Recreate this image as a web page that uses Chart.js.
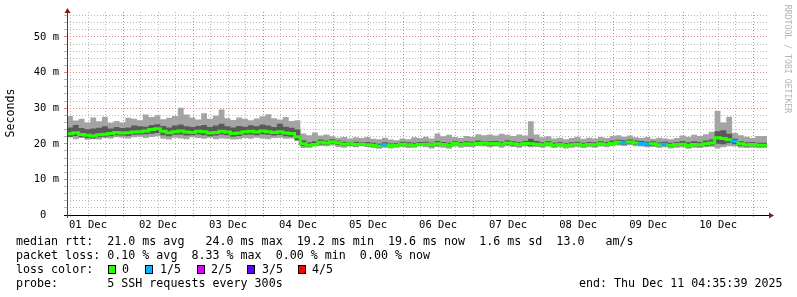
<!DOCTYPE html>
<html>
<head>
<meta charset="utf-8">
<script src="https://cdn.jsdelivr.net/npm/chart.js@4.4.1/dist/chart.umd.min.js"></script>
<style>
  html, body { margin: 0; padding: 0; background: #fff; }
  #wrap { position: relative; width: 797px; height: 297px; overflow: hidden; }
  #chart { position: absolute; left: 0; top: 0; }
  .lg { position: absolute; font-family: 'DejaVu Sans Mono', monospace; font-size: 11.66px; line-height: 14px; color: #000; white-space: pre; }
  .box { position: absolute; top: 265px; width: 6px; height: 7px; border: 1px solid #000; }
</style>
</head>
<body>
<div id="wrap">
  <canvas id="chart" width="797" height="297"></canvas>

  <div class="lg" style="left:16px;top:234px">median rtt:  21.0 ms avg   24.0 ms max  19.2 ms min  19.6 ms now  1.6 ms sd  13.0   am/s</div>
  <div class="lg" style="left:16px;top:248px">packet loss: 0.10 % avg  8.33 % max  0.00 % min  0.00 % now</div>

  <div class="lg" style="left:16px;top:262px">loss color:</div>
  <div class="box" style="left:108px;background:#26ff00"></div>
  <div class="lg" style="left:122px;top:262px">0</div>
  <div class="box" style="left:145px;background:#00b8ff"></div>
  <div class="lg" style="left:160px;top:262px">1/5</div>
  <div class="box" style="left:197px;background:#dd00ff"></div>
  <div class="lg" style="left:211px;top:262px">2/5</div>
  <div class="box" style="left:247px;background:#5a00ff"></div>
  <div class="lg" style="left:262px;top:262px">3/5</div>
  <div class="box" style="left:298px;background:#ff0000"></div>
  <div class="lg" style="left:312px;top:262px">4/5</div>

  <div class="lg" style="left:16px;top:276px">probe:       5 SSH requests every 300s</div>
  <div class="lg" style="left:579px;top:276px">end: Thu Dec 11 04:35:39 2025</div>
</div>

<script>
// Smokeping RTT, 01 Dec 04:48 -> 11 Dec 04:48, one value per 2 hour step
const startHour = 4.8;   // hours after 01 Dec 00:00
const stepHours = 2;
const endHour = 245.1;

const dayLabels = ['01 Dec', '02 Dec', '03 Dec', '04 Dec', '05 Dec',
                   '06 Dec', '07 Dec', '08 Dec', '09 Dec', '10 Dec'];

// median rtt (ms)
const medianRtt = [
  23.0, 22.8, 23.1, 22.6, 22.4, 22.2, 22.5, 22.7, 22.9, 23.2,
  23.0, 23.1, 23.3, 23.4, 23.6, 24.0, 24.2, 23.5, 23.1, 23.4,
  23.6, 23.3, 23.2, 23.5, 23.4, 23.0, 23.2, 23.5, 23.3, 22.9,
  23.0, 23.4, 23.5, 23.3, 23.6, 23.4, 23.2, 23.4, 23.0, 22.9,
  22.0, 20.0, 19.6, 19.8, 20.4, 20.2, 20.6, 20.3, 19.9, 20.0,
  19.8, 19.9, 19.7, 19.6, 19.3, 19.7, 19.5, 19.6, 19.9, 19.7,
  19.6, 19.8, 19.9, 19.7, 20.0, 19.8, 19.6, 20.1, 19.8, 20.0,
  19.9, 20.1, 20.2, 20.0, 20.1, 19.9, 20.2, 20.0, 19.8, 20.1,
  20.0, 19.9, 19.7, 20.0, 19.6, 19.8, 19.5, 19.7, 19.9, 19.6,
  19.8, 19.7, 20.0, 19.8, 20.1, 20.4, 20.3, 20.5, 20.2, 20.1,
  19.9, 20.0, 19.7, 19.9, 19.6, 19.8, 19.9, 19.5, 19.8, 19.7,
  20.0, 20.2, 21.7, 21.5, 21.1, 20.7, 20.0, 19.7, 19.8, 19.6
];

// slowest ping of each step (ms)
const maxRtt = [
  26.2, 27.8, 26.5, 27.0, 26.0, 27.4, 26.3, 27.6, 25.9, 26.4,
  26.0, 27.3, 27.0, 26.6, 28.2, 27.5, 28.0, 26.9, 27.3, 27.8,
  30.1, 28.2, 27.4, 26.8, 28.6, 27.0, 27.9, 29.6, 27.2, 26.7,
  27.4, 27.0, 26.6, 27.1, 27.7, 28.3, 27.2, 26.8, 27.5, 26.4,
  26.6, 22.9, 22.4, 23.2, 22.3, 22.6, 22.1, 21.7, 21.9, 21.5,
  21.8, 21.6, 21.9, 21.4, 21.3, 21.7, 21.2, 21.0, 21.5, 21.3,
  21.8, 21.6, 22.0, 21.5, 22.9, 22.1, 22.5, 21.9, 21.6, 22.2,
  22.0, 22.7, 22.4, 22.6, 22.3, 22.8, 22.5, 22.2, 22.6, 22.3,
  26.3, 22.6, 21.8, 22.1, 21.5, 21.7, 21.3, 21.6, 22.0, 21.4,
  21.7, 21.5, 21.9, 21.6, 22.2, 22.4, 22.0, 22.3, 21.8, 21.6,
  21.9, 21.4, 21.7, 21.5, 21.3, 21.6, 22.3, 22.0, 22.5, 22.2,
  22.7, 23.4, 29.3, 26.0, 27.6, 23.0, 22.4, 22.0, 21.6, 22.2
];

// fastest ping of each step (ms)
const minRtt = [
  21.6, 21.8, 21.3, 21.7, 21.1, 21.3, 21.2, 21.6, 21.5, 21.8,
  21.7, 21.5, 21.8, 22.0, 21.6, 21.9, 22.1, 21.4, 21.2, 21.7,
  21.5, 21.3, 21.8, 21.6, 21.4, 21.7, 21.3, 21.5, 21.4, 21.2,
  21.3, 21.6, 21.4, 21.7, 21.5, 21.3, 21.6, 21.7, 21.4, 21.5,
  20.8, 18.8, 18.9, 19.2, 19.4, 19.3, 19.5, 19.1, 18.9, 19.2,
  19.0, 19.3, 19.1, 18.8, 18.6, 18.9, 18.7, 18.9, 19.1, 18.8,
  18.9, 19.2, 19.0, 18.7, 19.1, 18.9, 18.6, 19.2, 18.9, 19.1,
  19.0, 19.3, 19.2, 19.0, 19.2, 18.9, 19.3, 19.1, 18.9, 19.2,
  19.0, 19.1, 18.9, 19.2, 18.8, 19.0, 18.7, 18.9, 19.1, 18.8,
  19.0, 18.9, 19.2, 19.0, 19.3, 19.5, 19.4, 19.6, 19.3, 19.2,
  19.0, 19.1, 18.9, 19.0, 18.7, 18.9, 19.0, 18.6, 18.9, 18.8,
  19.0, 19.1, 18.7, 19.0, 19.3, 19.2, 18.9, 18.8, 18.9, 18.8
];

// dense part of the smoke, upper edge (ms)
const coreHigh = [
  24.3, 24.6, 25.3, 24.4, 24.1, 24.3, 24.5, 24.9, 24.3, 24.7,
  24.4, 24.6, 25.1, 24.9, 24.8, 25.3, 25.5, 25.0, 24.6, 25.1,
  25.4, 24.9, 24.7, 25.0, 25.3, 24.7, 25.1, 25.6, 24.9, 24.6,
  25.0, 24.8, 25.2, 24.9, 25.4, 25.1, 24.7, 25.6, 24.8, 24.5,
  24.0, 21.0, 20.4, 20.7, 21.2, 20.9, 21.3, 20.9, 20.6, 20.5,
  20.6, 20.4, 20.5, 20.3, 20.0, 20.4, 20.1, 20.2, 20.6, 20.4,
  20.3, 20.5, 20.6, 20.3, 20.8, 20.5, 20.3, 20.7, 20.5, 20.7,
  20.6, 20.9, 20.8, 20.7, 20.8, 20.6, 21.0, 20.7, 20.5, 20.8,
  21.4, 20.8, 20.4, 20.7, 20.3, 20.5, 20.2, 20.4, 20.6, 20.3,
  20.5, 20.4, 20.7, 20.5, 20.9, 21.1, 21.0, 21.2, 20.9, 20.8,
  20.6, 20.7, 20.4, 20.6, 20.3, 20.5, 20.8, 20.4, 20.7, 20.5,
  20.9, 21.2, 23.5, 23.8, 22.8, 21.4, 20.7, 20.4, 20.5, 20.3
];

// dense part of the smoke, lower edge (ms)
const coreLow = [
  22.1, 21.9, 22.2, 21.8, 21.6, 21.5, 21.8, 22.0, 22.1, 22.4,
  22.3, 22.2, 22.5, 22.6, 22.7, 22.8, 23.0, 22.4, 22.1, 22.5,
  22.6, 22.3, 22.4, 22.6, 22.4, 22.1, 22.3, 22.6, 22.4, 22.0,
  22.2, 22.5, 22.6, 22.4, 22.7, 22.5, 22.3, 22.5, 22.1, 22.0,
  21.0, 19.4, 19.1, 19.4, 19.8, 19.7, 20.0, 19.7, 19.4, 19.5,
  19.3, 19.5, 19.3, 19.2, 18.9, 19.3, 19.1, 19.2, 19.5, 19.3,
  19.2, 19.4, 19.5, 19.2, 19.5, 19.4, 19.1, 19.6, 19.4, 19.6,
  19.5, 19.7, 19.7, 19.5, 19.6, 19.4, 19.7, 19.5, 19.3, 19.6,
  19.4, 19.5, 19.3, 19.6, 19.2, 19.4, 19.1, 19.3, 19.5, 19.2,
  19.4, 19.3, 19.6, 19.4, 19.7, 19.9, 19.8, 20.0, 19.7, 19.6,
  19.4, 19.5, 19.3, 19.4, 19.1, 19.3, 19.4, 19.0, 19.3, 19.2,
  19.4, 19.6, 20.0, 19.9, 20.2, 19.9, 19.4, 19.2, 19.3, 19.1
];

// lost pings out of 5 in each step
const lostPings = [
  0, 0, 0, 0, 0, 0, 0, 0, 0, 0,   0, 0, 0, 0, 0, 0, 0, 0, 0, 0,
  0, 0, 0, 0, 0, 0, 0, 0, 0, 0,   0, 0, 0, 0, 0, 0, 0, 0, 0, 0,
  0, 0, 0, 0, 0, 0, 0, 0, 0, 0,   0, 0, 0, 0, 1, 0, 0, 0, 0, 0,
  0, 0, 0, 0, 0, 0, 0, 0, 0, 0,   0, 0, 0, 0, 0, 0, 0, 0, 0, 0,
  0, 0, 0, 0, 0, 0, 0, 0, 0, 0,   0, 0, 0, 0, 0, 1, 0, 0, 1, 1,
  0, 0, 1, 0, 0, 0, 0, 0, 0, 0,   0, 0, 0, 0, 1, 0, 0, 0, 0, 0
];

const lossColors = ['#26ff00', '#00b8ff', '#dd00ff', '#5a00ff', '#ff0000'];

const FONT = "'DejaVu Sans Mono', monospace";
const MINOR_GRID = '#b8b8b8';
const MAJOR_GRID = '#e28080';

// stepped series: one point at the start of each step plus one closing point
function steps(values) {
  const pts = values.map((v, i) => ({ x: startHour + i * stepHours, y: v }));
  pts.push({ x: startHour + values.length * stepHours, y: values[values.length - 1] });
  return pts;
}

function smoke(values, fill, color) {
  return {
    data: steps(values),
    stepped: 'after',
    borderWidth: 0,
    pointRadius: 0,
    backgroundColor: color,
    fill: fill
  };
}

// axis decorations, unit label and watermark
const rrdDecor = {
  id: 'rrdDecor',
  afterDraw(chart) {
    const { ctx, chartArea: a } = chart;
    ctx.save();
    ctx.lineWidth = 1;
    ctx.strokeStyle = '#000';
    ctx.beginPath();
    ctx.moveTo(a.left - 3, a.bottom + 0.5);
    ctx.lineTo(a.right + 2, a.bottom + 0.5);
    ctx.stroke();
    ctx.strokeStyle = '#404040';
    ctx.beginPath();
    ctx.moveTo(a.left + 0.5, a.bottom + 3);
    ctx.lineTo(a.left + 0.5, a.top - 2);
    ctx.stroke();

    ctx.fillStyle = '#8b1a1a';
    ctx.beginPath();
    ctx.moveTo(a.left + 0.5, a.top - 4);
    ctx.lineTo(a.left - 2.5, a.top + 1);
    ctx.lineTo(a.left + 3.5, a.top + 1);
    ctx.closePath();
    ctx.fill();
    ctx.beginPath();
    ctx.moveTo(a.right + 6, a.bottom + 0.5);
    ctx.lineTo(a.right + 1, a.bottom - 2.5);
    ctx.lineTo(a.right + 1, a.bottom + 3.5);
    ctx.closePath();
    ctx.fill();

    ctx.fillStyle = '#000';
    ctx.font = '11.6px ' + FONT;
    ctx.textAlign = 'center';
    ctx.textBaseline = 'middle';
    ctx.translate(11, 113);
    ctx.rotate(-Math.PI / 2);
    ctx.fillText('Seconds', 0, 0);
    ctx.restore();

    ctx.save();
    ctx.fillStyle = '#b4b4b4';
    ctx.font = '8.2px ' + FONT;
    ctx.textAlign = 'center';
    ctx.textBaseline = 'middle';
    ctx.translate(787, 59);
    ctx.rotate(Math.PI / 2);
    ctx.fillText('RRDTOOL / TOBI OETIKER', 0, 0);
    ctx.restore();
  }
};

new Chart(document.getElementById('chart').getContext('2d'), {
  type: 'line',
  data: {
    datasets: [
      {
        data: steps(medianRtt),
        stepped: 'after',
        borderWidth: 3,
        borderColor: lossColors[0],
        pointRadius: 0,
        fill: false,
        segment: { borderColor: ctx => lossColors[lostPings[ctx.p0DataIndex]] || lossColors[0] }
      },
      smoke(coreHigh, '+1', '#5a5a5a'),
      smoke(coreLow, false, 'transparent'),
      smoke(maxRtt, '+1', '#a4a4a4'),
      smoke(minRtt, false, 'transparent')
    ]
  },
  options: {
    responsive: false,
    animation: false,
    devicePixelRatio: 1,
    layout: { padding: { top: 12, right: 29, left: 0, bottom: 0 } },
    plugins: { legend: { display: false }, tooltip: { enabled: false } },
    scales: {
      x: {
        type: 'linear',
        min: startHour,
        max: endHour,
        afterFit: s => { s.height = 82; },
        afterBuildTicks: s => {
          const t = [];
          for (let h = 6; h < endHour; h += 6) t.push({ value: h });
          s.ticks = t;
        },
        ticks: {
          autoSkip: false,
          maxRotation: 0,
          padding: 2,
          color: '#000',
          font: { family: FONT, size: 10.5 },
          callback: v => (v % 24 === 12 ? dayLabels[(v - 12) / 24] : '')
        },
        grid: {
          lineWidth: 1,
          tickLength: 2,
          color: c => (c.tick && c.tick.value % 24 === 0 ? MAJOR_GRID : MINOR_GRID),
          tickColor: c => (c.tick && c.tick.value % 24 === 0 ? MAJOR_GRID : MINOR_GRID)
        },
        border: { display: false, dash: [1, 2] }
      },
      y: {
        min: 0,
        max: 57,
        afterFit: s => { s.width = 67; },
        afterBuildTicks: s => {
          const t = [];
          for (let v = 0; v <= 56; v += 2) t.push({ value: v });
          s.ticks = t;
        },
        ticks: {
          autoSkip: false,
          padding: 5,
          color: '#000',
          font: { family: FONT, size: 10.5 },
          callback: v => (v % 10 === 0 ? (v === 0 ? '0  ' : v + ' m') : '')
        },
        grid: {
          lineWidth: 1,
          tickLength: 3,
          color: c => (c.tick && c.tick.value % 10 === 0 ? MAJOR_GRID : MINOR_GRID),
          tickColor: c => (c.tick && c.tick.value % 10 === 0 ? MAJOR_GRID : MINOR_GRID)
        },
        border: { display: false, dash: [1, 2] }
      }
    }
  },
  plugins: [rrdDecor]
});
</script>
</body>
</html>
